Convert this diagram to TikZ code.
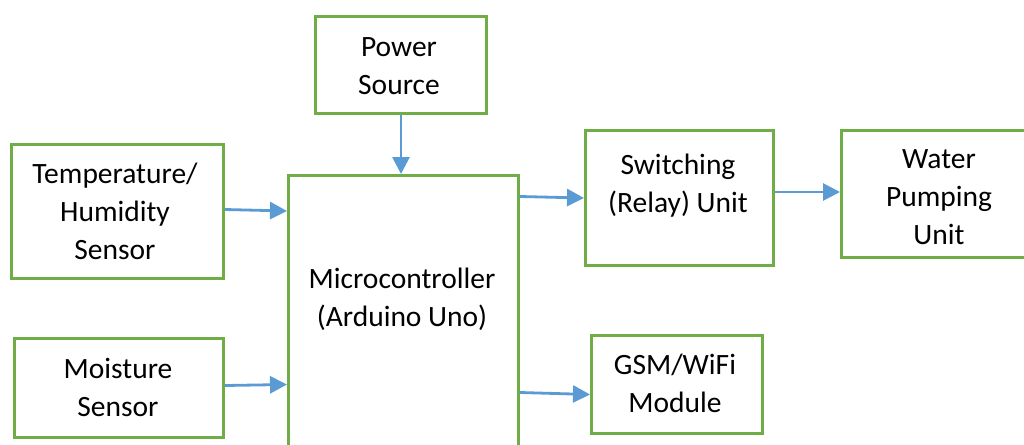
\documentclass[tikz,border=0pt]{standalone}
\usepackage{fontspec}
\setmainfont{Carlito}
\usetikzlibrary{arrows.meta}
\definecolor{boxgreen}{RGB}{112,173,71}
\definecolor{arrowblue}{RGB}{91,155,213}
\tikzset{
  blockbox/.style={draw=boxgreen, line width=3pt, fill=white, rectangle, anchor=north west, inner sep=0pt},
  blocktxt/.style={align=center, inner sep=0pt, font=\fontsize{29.5}{38}\selectfont, text=black},
  conn/.style={draw=arrowblue, line width=2.8pt, -{Triangle[length=17pt,width=17pt]}}
}
\begin{document}
\begin{tikzpicture}[x=1pt,y=-1pt]
\useasboundingbox (0,0) rectangle (1024,444);
\clip (0,0) rectangle (1024,444);
% boxes
\node[blockbox, minimum width=171pt, minimum height=97pt] (pw) at (314,15) {};
\node[blockbox, minimum width=212pt, minimum height=134pt] (temp) at (10,143) {};
\node[blockbox, minimum width=230pt, minimum height=400pt] (mc) at (287,174) {};
\node[blockbox, minimum width=209pt, minimum height=99pt] (moist) at (13,337) {};
\node[blockbox, minimum width=188pt, minimum height=135pt] (sw) at (584,129) {};
\node[blockbox, minimum width=200pt, minimum height=127pt] (wat) at (840,129) {};
\node[blockbox, minimum width=171pt, minimum height=98pt] (gsm) at (590,334) {};
% texts
\node[blocktxt] (pwt) at (399,66) {Power\\Source};
\node[blocktxt] (tempt) at (115,211) {Temperature/\\Humidity\\Sensor};
\node[blocktxt] (mct) at (402,299) {Microcontroller\\(Arduino Uno)};
\node[blocktxt] (moistt) at (118,387) {Moisture\\Sensor};
\node[blocktxt] (swt) at (678,186) {Switching\\(Relay) Unit};
\node[blocktxt] (watt) at (939,197) {Water\\Pumping\\Unit};
\node[blocktxt] (gsmt) at (675,383) {GSM/WiFi\\Module};
% connectors
\draw[conn] (pw.south) -- (pw.south |- mc.north);
\draw[conn] ([yshift=2pt]temp.east) -- ([yshift=0.5pt]temp.east -| mc.west);
\draw[conn] ([yshift=2.5pt]moist.east) -- ([yshift=3.5pt]moist.east -| mc.west);
\draw[conn] ([yshift=1.5pt]sw.west -| mc.east) -- (sw.west);
\draw[conn] ([yshift=2pt]wat.west -| sw.east) -- ([yshift=2pt]wat.west);
\draw[conn] ([yshift=-8pt]gsm.west -| mc.east) -- ([yshift=-10pt]gsm.west);
\end{tikzpicture}
\end{document}
